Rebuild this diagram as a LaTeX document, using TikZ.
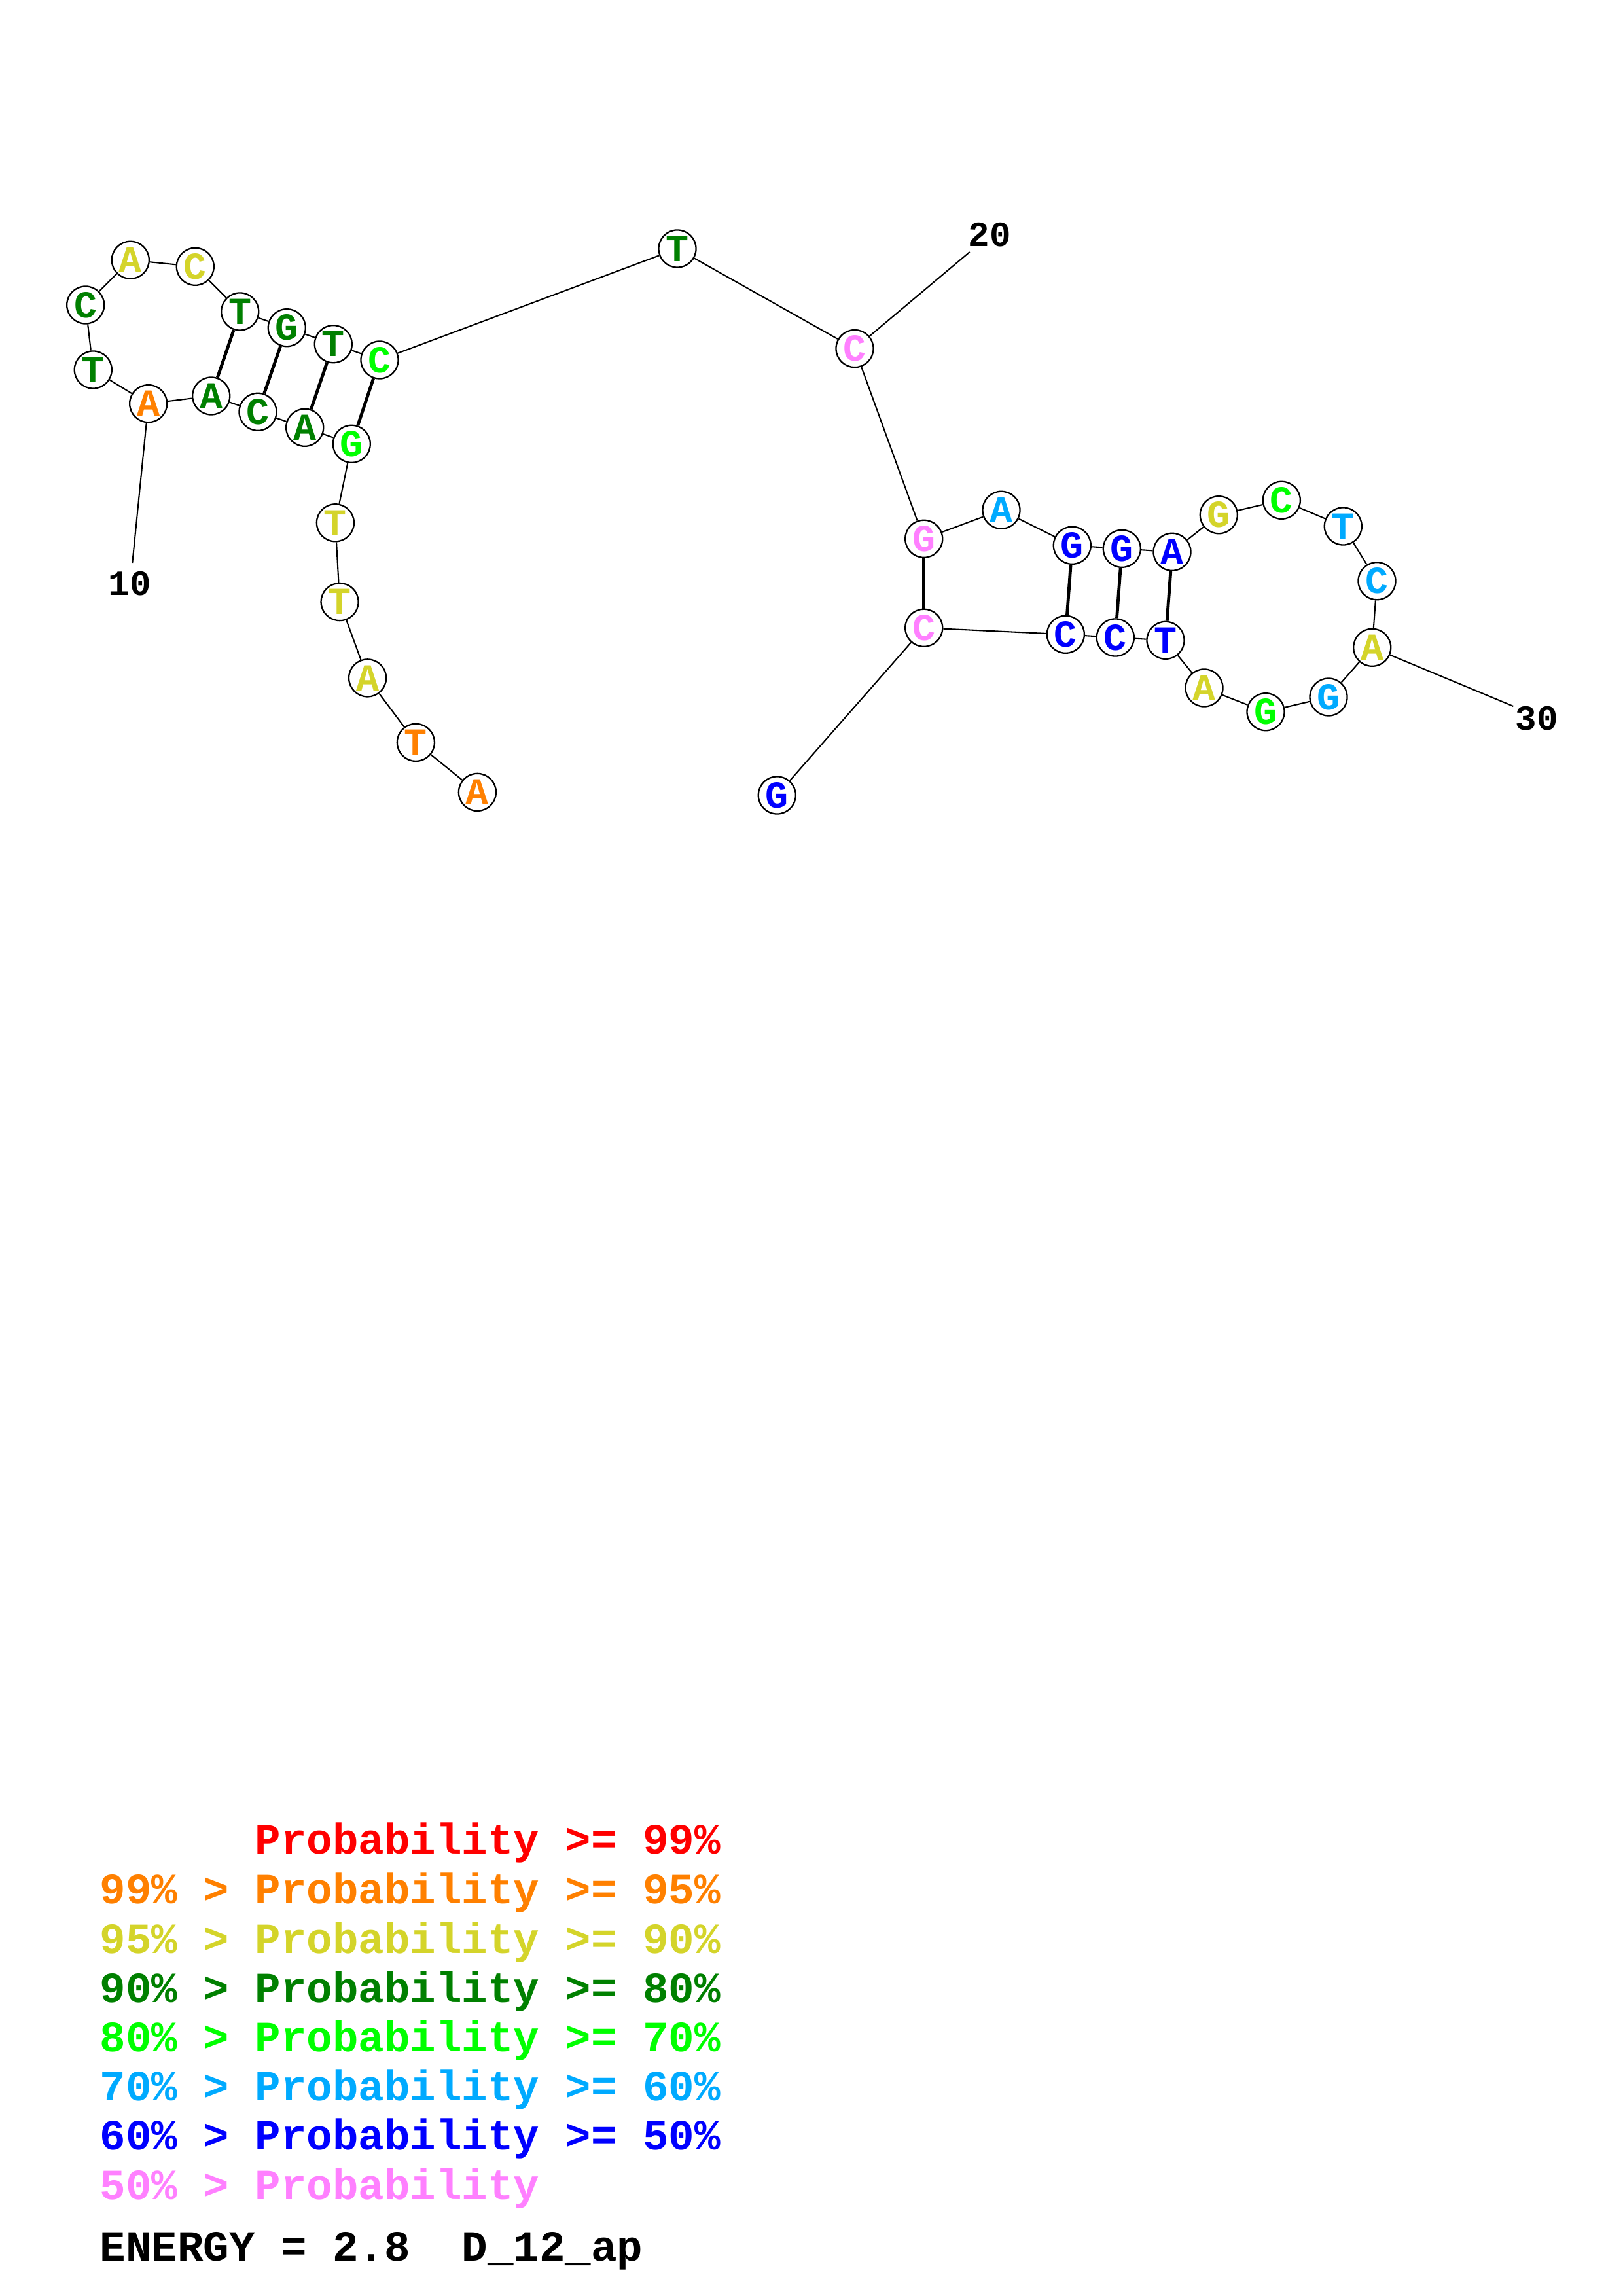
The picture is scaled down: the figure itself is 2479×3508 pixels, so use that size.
\documentclass[tikz,border=0pt]{standalone}
\usepackage{fontspec}
\setmonofont{Liberation Mono}
\definecolor{cred}{RGB}{255,0,0}
\definecolor{corange}{RGB}{255,128,0}
\definecolor{cyellow}{RGB}{212,212,42}
\definecolor{cdgreen}{RGB}{0,128,0}
\definecolor{cbgreen}{RGB}{0,255,0}
\definecolor{clblue}{RGB}{0,170,255}
\definecolor{cblue}{RGB}{0,0,255}
\definecolor{cpink}{RGB}{255,128,255}
\tikzset{
  nt/.style={circle,draw=black,fill=white,line width=0.55pt,minimum size=13.7pt,inner sep=0pt,
    font=\ttfamily\bfseries\fontsize{14}{14}\selectfont},
  bb/.style={line width=0.5pt},
  bond/.style={line width=1.15pt},
  numlab/.style={font=\ttfamily\bfseries\fontsize{13}{13}\selectfont,inner sep=0pt},
  leg/.style={anchor=base west,inner sep=0pt,font=\ttfamily\bfseries\fontsize{15.8}{15.8}\selectfont}
}
\begin{document}
\begin{tikzpicture}[x=0.24pt,y=-0.24pt]
\useasboundingbox (0,0) rectangle (2479,3508);
\node[nt,text=corange] (n1) at (729.4,1210.4) {A};
\node[nt,text=corange] (n2) at (635.4,1134.4) {T};
\node[nt,text=cyellow] (n3) at (561.6,1035.9) {A};
\node[nt,text=cyellow] (n4) at (519.1,919.6) {T};
\node[nt,text=cyellow] (n5) at (512.4,798.8) {T};
\node[nt,text=cbgreen] (n6) at (537.3,678.3) {G};
\node[nt,text=cdgreen] (n7) at (465.7,653.3) {A};
\node[nt,text=cdgreen] (n8) at (394,629.3) {C};
\node[nt,text=cdgreen] (n9) at (322.7,605) {A};
\node[nt,text=corange] (n10) at (226.7,616.7) {A};
\node[nt,text=cdgreen] (n11) at (142.3,565) {T};
\node[nt,text=cdgreen] (n12) at (130.7,466) {C};
\node[nt,text=cyellow] (n13) at (199.3,397.3) {A};
\node[nt,text=cyellow] (n14) at (298.3,407.3) {C};
\node[nt,text=cdgreen] (n15) at (366.7,476) {T};
\node[nt,text=cdgreen] (n16) at (438.3,500.7) {G};
\node[nt,text=cdgreen] (n17) at (509.3,525.7) {T};
\node[nt,text=cbgreen] (n18) at (580,550) {C};
\node[nt,text=cdgreen] (n19) at (1035,380) {T};
\node[nt,text=cpink] (n20) at (1306,532.6) {C};
\node[nt,text=cpink] (n21) at (1411.7,823.3) {G};
\node[nt,text=clblue] (n22) at (1530,779.3) {A};
\node[nt,text=cblue] (n23) at (1638.3,833.3) {G};
\node[nt,text=cblue] (n24) at (1714.3,838.3) {G};
\node[nt,text=cblue] (n25) at (1791,843.3) {A};
\node[nt,text=cyellow] (n26) at (1862.3,786.7) {G};
\node[nt,text=cbgreen] (n27) at (1958.3,764.3) {C};
\node[nt,text=clblue] (n28) at (2052.3,804) {T};
\node[nt,text=clblue] (n29) at (2104,887.7) {C};
\node[nt,text=cyellow] (n30) at (2096.7,989.3) {A};
\node[nt,text=clblue] (n31) at (2030,1065) {G};
\node[nt,text=cbgreen] (n32) at (1934,1087.7) {G};
\node[nt,text=cyellow] (n33) at (1840,1051) {A};
\node[nt,text=cblue] (n34) at (1781,978.3) {T};
\node[nt,text=cblue] (n35) at (1704.3,974) {C};
\node[nt,text=cblue] (n36) at (1628.3,969.3) {C};
\node[nt,text=cpink] (n37) at (1411.7,959.3) {C};
\node[nt,text=cblue] (n38) at (1187.3,1215) {G};
% backbone
\foreach \a/\b in {1/2,2/3,3/4,4/5,5/6,6/7,7/8,8/9,9/10,10/11,11/12,12/13,13/14,14/15,15/16,16/17,17/18,18/19,19/20,20/21,21/22,22/23,23/24,24/25,25/26,26/27,27/28,28/29,29/30,30/31,31/32,32/33,33/34,34/35,35/36,36/37,37/38}
  \draw[bb] (n\a) -- (n\b);
% pairs
\foreach \a/\b in {6/18,7/17,8/16,9/15,21/37,23/36,24/35,25/34}
  \draw[bond] (n\a) -- (n\b);
% number labels
\coordinate (e10) at (202.3,860);
\coordinate (e20) at (1481.7,385);
\coordinate (e30) at (2312.3,1079);
\draw[bb] (n10) -- (e10);
\draw[bb] (n20) -- (e20);
\draw[bb] (n30) -- (e30);
\node[numlab] (l10) at (198.3,891.7) {10};
\node[numlab] (l20) at (1512.3,358.3) {20};
\node[numlab] (l30) at (2348.3,1097.3) {30};
% legend
\node[leg,text=cred] (g1) at (389,2832) {Probability >= 99\%};
\node[leg,text=corange] (g2) at (152,2908) {99\% > Probability >= 95\%};
\node[leg,text=cyellow] (g3) at (152,2984) {95\% > Probability >= 90\%};
\node[leg,text=cdgreen] (g4) at (152,3059) {90\% > Probability >= 80\%};
\node[leg,text=cbgreen] (g5) at (152,3134) {80\% > Probability >= 70\%};
\node[leg,text=clblue] (g6) at (152,3209) {70\% > Probability >= 60\%};
\node[leg,text=cblue] (g7) at (152,3284) {60\% > Probability >= 50\%};
\node[leg,text=cpink] (g8) at (152,3360) {50\% > Probability};
\node[leg,text=black] (g9) at (152,3454) {ENERGY = 2.8~~D\_12\_ap};
\end{tikzpicture}
\end{document}
